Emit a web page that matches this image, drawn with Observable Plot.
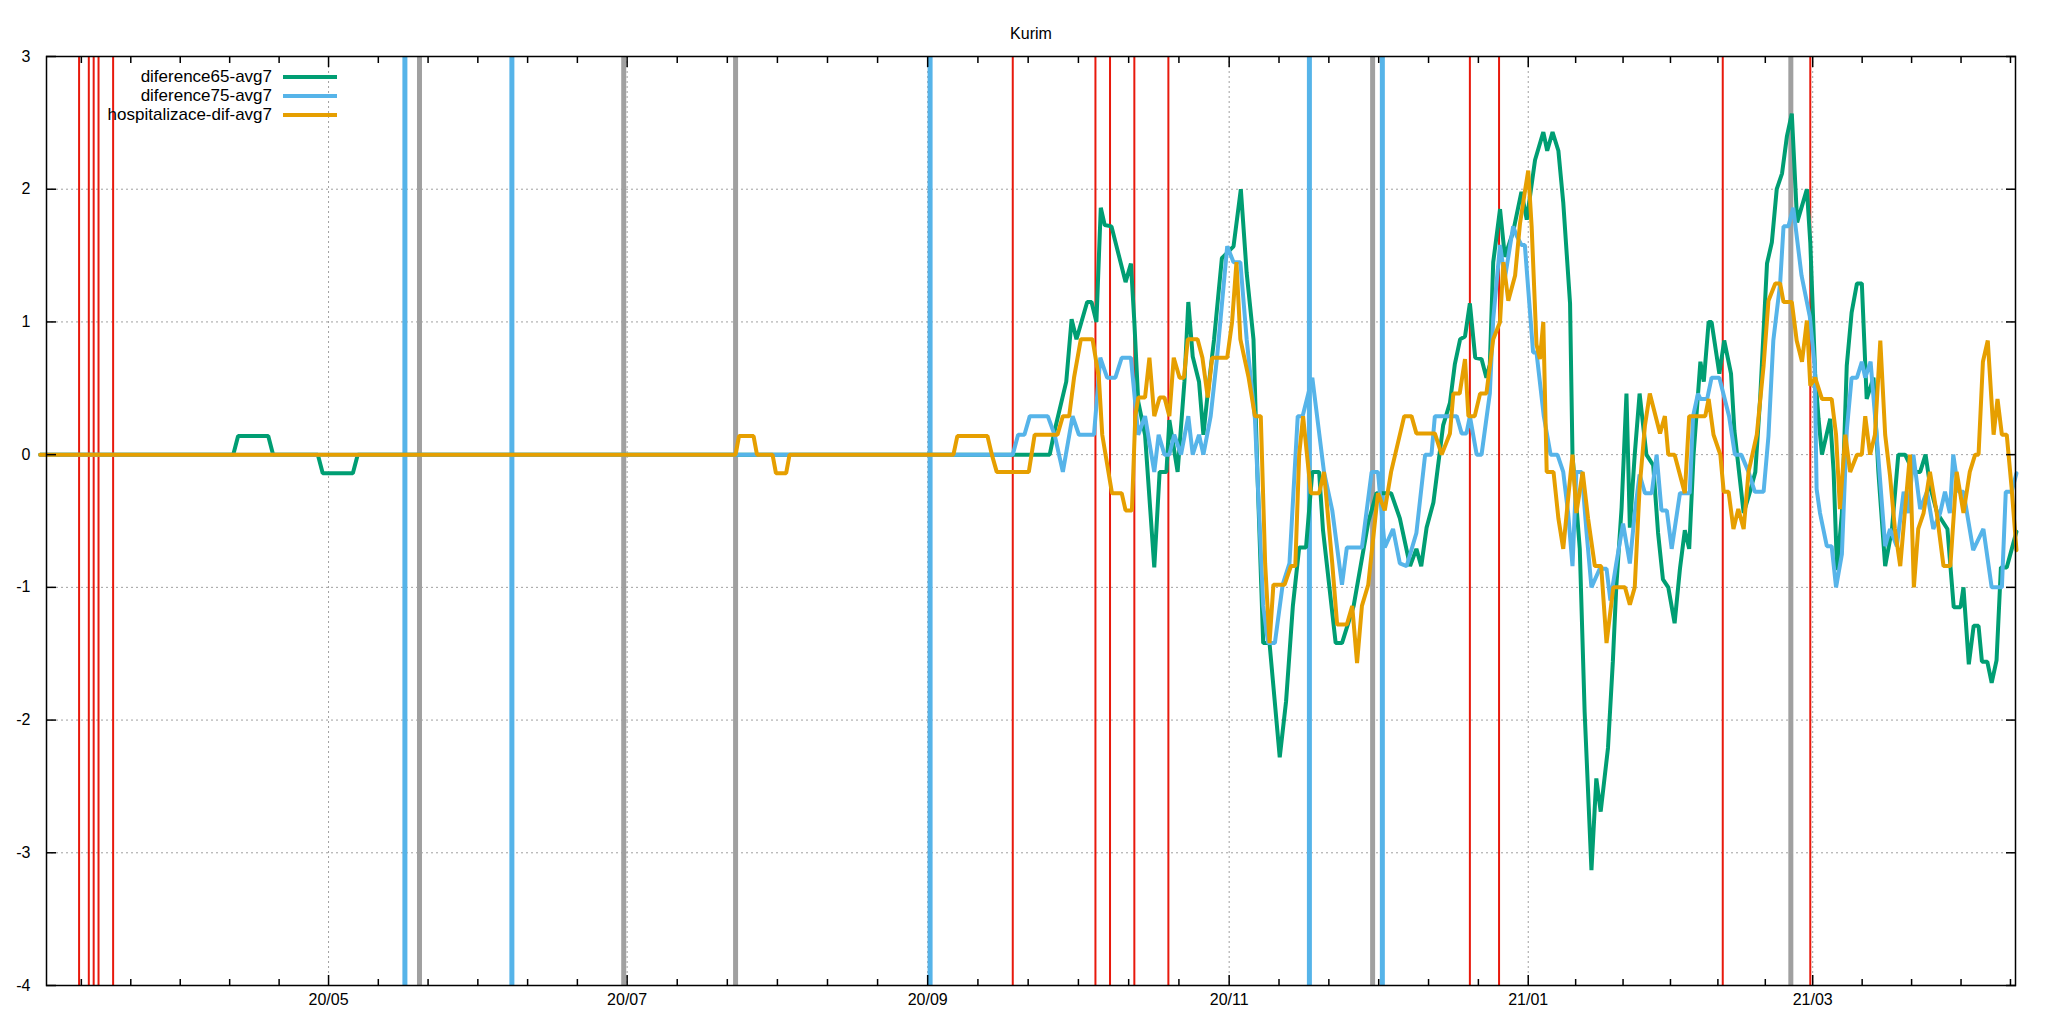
<!DOCTYPE html>
<html>
<head>
<meta charset="utf-8">
<script src="https://cdn.jsdelivr.net/npm/d3@7"></script>
<script src="https://cdn.jsdelivr.net/npm/@observablehq/plot@0.6"></script>
<style>
  body { margin: 0; background: #fff; font-family: "Liberation Sans", Arial, sans-serif; }
  #chart { position: relative; width: 2048px; height: 1024px; }
  #legend { position: absolute; left: 0; top: 0; font-size: 17px; }
</style>
</head>
<body>
<div id="chart"><div id="legend"></div></div>
<script>
// days counted from 2020-05-01
const dif65Days = [-61,-21.3,-20.3,-14.1,-13.1,-3.9,-2.9,3.3,4.3,146.6,147.6,150,151.1,152.1,154.3,155.2,156.2,157.1,157.9,159.3,162.2,163.3,164,164.8,166.2,168.1,169.2,170.6,171.2,172.9,174.3,175.1,176,177.3,178.2,179,180.4,182,184.4,185.9,187.1,188.5,189.3,190.5,191.8,193.9,195.2,196.6,197.9,199.3,200.6,202,202.8,205.4,206.7,209.1,212.1,213.8,216.8,
  218.6,220.7,222,223,224.1,225.5,227.5,228.9,229.9,231,232,233,234.1,235.4,236.4,237.1,237.8,239.2,240.2,241.9,243.6,244.7,246.4,248.1,248.9,250,251.2,252.2,253.6,254.1,255.6,256.6,258,259,259.9,261.4,262.4,263.1,264.2,265.2,265.9,266.9,267.9,269.3,270.7,271.7,272.7,273.8,275.1,276.2,277.2,278.1,279,
  280.4,281.1,282.1,282.7,284.3,285.3,286.7,287.4,289.3,290.6,291.7,292.7,294.1,295.1,296.1,297.2,298.2,299.2,300.3,302.3,303,304,304.7,305.4,307.1,307.8,308.5,309.5,310.5,311.5,312.6,313.6,314.6,316,317,318.4,319.8,321.1,322.5,324.2,325.6,326.7,327.7,329.1,331.2,332.5,333.9,334.5,335.6,336.6,337.6,338.3,339.4,340.3,341.3,342.2,343.4,345.4];
const dif65Vals = [0,0,.14,.14,0,0,-.14,-.14,0,0,.18,.55,1.02,.87,1.15,1.15,1.0,1.86,1.73,1.72,1.3,1.44,1.0,.4,.15,-.85,-.13,-.13,.26,-.13,.55,1.15,.74,.55,.15,.43,.87,1.48,1.57,2.0,1.37,.87,-.13,-1.42,-1.42,-2.28,-1.86,-1.14,-.7,-.7,-.13,-.13,-.57,-1.42,-1.42,-1.14,-.51,-.29,-.29,
  -.48,-.84,-.71,-.84,-.55,-.36,.22,.39,.68,.87,.89,1.14,.73,.72,.58,.68,1.45,1.85,1.49,1.68,1.98,1.77,2.22,2.43,2.29,2.43,2.29,1.9,1.14,0,-.71,-1.94,-3.13,-2.44,-2.69,-2.21,-1.56,-1.0,-.4,.46,-.55,0,.46,0,-.08,-.59,-.94,-1.0,-1.27,-.86,-.57,-.71,0,
  .7,.55,1.0,1.0,.61,.86,.61,.18,-.44,-.28,-.13,.43,1.44,1.6,2.0,2.12,2.4,2.57,1.75,2.0,1.6,.61,.27,0,.27,-.13,-.87,-.44,.67,1.07,1.29,1.29,.42,.58,-.13,-.84,-.56,0,0,-.13,-.13,0,-.25,-.44,-.56,-1.15,-1.15,-1.0,-1.58,-1.29,-1.29,-1.56,-1.56,-1.72,-1.55,-.85,-.85,-.58];

const dif75Days = [-61,139,140.1,141.4,142.5,146.2,147.6,149.3,151.3,152.6,155.7,157,158.4,160.1,161.4,163.3,164.8,166.2,168.1,169,170.2,171.2,172.2,173.6,175.1,176,177.3,178.2,179.7,181,183.1,184.4,185.8,187.1,188.8,190.5,191.5,192.9,194.5,195.9,197.6,198.6,200.6,203,204.7,206.7,207.7,210.8,212.8,214.1,215.5,217.2,
  218.6,220,222,223.8,225.1,225.8,230.3,231.3,232.3,233,234.4,235.4,237.1,237.8,239.2,240.2,241.9,242.6,243.6,244.3,246,246.7,248.2,249.6,251,252.2,253.2,254.1,254.9,256,257,258,259.7,261.1,261.9,263.1,264.5,265.9,266.9,267.9,269,270.4,271.4,272.4,273.5,274.5,276.2,278.2,278.9,279.9,
  280.4,281.8,282.7,284.3,286.3,287.5,288.8,290.3,291.6,293.4,294.4,295.4,296.8,297.5,298.5,299.5,301.2,302.9,303.9,304.3,305,306.4,307.4,308.3,309.5,310.5,311.5,312.6,313.6,314.3,315.4,316.7,318.4,319.4,320.8,322.2,323.2,324.2,325.6,327,328.3,329.7,330.7,331.7,332.4,333.5,334.5,336.5,338.6,340.3,342.4,343.2,344.4,345.4];
const dif75Vals = [0,0,.15,.15,.29,.29,.15,-.13,.29,.15,.15,.73,.58,.58,.73,.73,.15,.29,-.13,.15,0,0,.15,0,.29,0,.15,0,.29,.73,1.57,1.45,1.45,.87,.27,-1.14,-1.42,-1.42,-.98,-.82,.29,.29,.58,-.13,-.42,-.98,-.7,-.7,-.13,-.13,-.7,-.56,
  -.82,-.84,-.59,0,0,.29,.29,.16,.16,.29,0,0,.46,1.02,1.58,1.33,1.72,1.65,1.58,1.58,.77,.77,.29,0,0,-.13,-.44,-.84,-.13,-.13,-.59,-1.0,-.86,-.86,-1.1,-.82,-.52,-.82,-.44,-.15,-.29,-.29,0,-.42,-.42,-.71,-.29,-.29,.29,.46,
  .42,.42,.58,.58,.29,0,0,-.13,-.28,-.28,.14,.86,1.29,1.72,1.72,1.86,1.35,1.04,.67,-.26,-.44,-.69,-.69,-1.0,-.75,.18,.58,.58,.7,.58,.7,.12,-.69,-.56,-.69,-.28,-.44,0,-.41,-.28,-.56,-.44,-.28,-.44,0,-.28,-.28,-.72,-.56,-1.0,-1.0,-.28,-.28,-.14];

const hospDays = [-61,82,82.7,85.7,86.4,89.6,90.3,92.4,93.1,126.8,127.6,133.8,134.7,135.7,142.3,143.5,148.2,149.3,150.6,151.6,153,155.4,156.7,157.4,159.4,161.4,162.2,163.5,164.2,164.8,166.2,167.1,168.1,169.2,170.2,171.2,172.1,173.3,174.2,175,177,178,179.1,180,183.1,184.1,185,185.8,187.5,188.8,190,190.9,191.8,192.6,194.9,196.2,197.1,197.9,198.7,200.3,202,203,204.7,205.7,207.7,208.8,209.8,210.8,212.1,214.1,215.5,216.8,
  219.5,221,222,225.8,227.2,228.9,229.6,230.9,232,232.7,234,235.1,236.4,237.8,239.2,239.9,240.9,242.3,243.3,244.3,245,245.7,246.7,247.4,248.1,248.8,250.2,251.2,252.2,253.2,254.1,254.9,256.2,257.3,258.7,260,261.1,262.5,264.9,265.9,266.9,267.9,269,270,272.1,273.1,273.8,275.1,277.2,278.1,279.5,
  280.4,281.4,282.1,283.1,284.5,285.2,286.2,287.2,288.2,289.3,290.3,292,293.4,294.4,295.8,296.8,297.5,299.2,300.2,301.3,302.3,303,304,305.4,307.4,308.3,309.1,310.2,311.2,312.6,313.6,314.3,315.3,316.3,317.4,318.4,319.4,320.4,321.5,322.5,323.5,324.3,325.2,326.3,327.6,329,330.4,331.8,333.1,334.5,335.8,336.9,337.6,338.5,339.5,340.7,341.5,342.4,343.4,344.4,345.4];
const hospVals = [0,0,.14,.14,0,0,-.14,-.14,0,0,.14,.14,0,-.13,-.13,.15,.15,.29,.29,.58,.87,.87,.58,.15,-.29,-.29,-.42,-.42,.29,.43,.43,.73,.29,.43,.43,.29,.73,.58,.58,.87,.87,.73,.43,.73,.73,1.0,1.45,.87,.58,.29,.29,-.82,-1.42,-.98,-.98,-.84,-.84,0,.29,-.29,-.29,-.13,-.82,-1.28,-1.28,-1.14,-1.57,-1.14,-.98,-.29,-.42,-.13,
  .29,.29,.16,.16,0,.16,.46,.46,.72,.29,.29,.46,.46,.87,1.0,1.45,1.16,1.35,1.74,1.98,2.14,1.72,.83,.72,1.0,-.13,-.13,-.48,-.71,-.33,0,-.44,-.13,-.48,-.84,-.84,-1.42,-1.0,-1.0,-1.13,-1.0,-.25,.22,.46,.16,.29,0,0,-.29,.29,.29,
  .29,.29,.42,.15,0,-.28,-.28,-.56,-.41,-.56,-.13,.15,.67,1.16,1.29,1.29,1.15,1.15,.86,.7,1.01,.52,.58,.42,.42,.15,-.41,.15,-.13,0,0,.29,0,.15,.86,.15,-.16,-.56,-.84,-.41,0,-1.0,-.56,-.44,-.13,-.44,-.84,-.84,-.13,-.44,-.13,0,0,.7,.86,.15,.42,.15,.15,-.25,-.72];

const redDates = ["2020-03-09","2020-03-11","2020-03-12","2020-03-13","2020-03-16","2020-09-17","2020-10-04","2020-10-07","2020-10-12","2020-10-19","2020-12-20","2020-12-26","2021-02-10","2021-02-28"];
const blueDates = ["2020-05-15","2020-06-06","2020-08-31","2020-11-17","2020-12-02"];
const grayDates = ["2020-05-18","2020-06-29","2020-07-22","2020-11-30","2021-02-24"];
// major tick positions (days from 2020-05-01) and their labels
const majorDays = [-1.7, 59.7, 121.5, 183.5, 245, 303.5];
const majorLabels = ["20/05","20/07","20/09","20/11","21/01","21/03"];
const yTicks = [-4,-3,-2,-1,0,1,2,3];
const seriesNames = ["diference65-avg7","diference75-avg7","hospitalizace-dif-avg7"];
const colors = ["#009e73","#56b4e9","#e69f00"];

const base = Date.UTC(2020, 4, 1);
const toDate = d => new Date(base + d * 864e5);
const parse = s => new Date(s + "T00:00:00Z");

const rows = [];
[[dif65Days, dif65Vals], [dif75Days, dif75Vals], [hospDays, hospVals]].forEach(([ds, vs], i) => {
  ds.forEach((d, j) => rows.push({date: toDate(d), value: vs[j], series: seriesNames[i]}));
});

const majors = majorDays.map(toDate);
const labelOf = new Map(majors.map((d, i) => [+d, majorLabels[i]]));
// minor ticks: each major interval split into 6
const bounds = [-62.7, ...majorDays, 364.5];
const minors = [];
for (let i = 0; i < bounds.length - 1; i++) {
  for (let k = 1; k < 6; k++) minors.push(toDate(bounds[i] + (bounds[i + 1] - bounds[i]) * k / 6));
}
const xDomain = [toDate(-59.7), toDate(345.2)];
const inDomain = d => d >= xDomain[0] && d <= xDomain[1];
const minorsIn = minors.filter(inDomain);

const tickStyle = {text: null, strokeWidth: 1.5, tickSize: 0};

const chart = Plot.plot({
  width: 2048,
  height: 1024,
  marginLeft: 46,
  marginRight: 33,
  marginTop: 56,
  marginBottom: 39,
  style: {fontFamily: "Liberation Sans, Arial, sans-serif", fontSize: "16px", background: "white"},
  x: {type: "utc", domain: xDomain, label: null},
  y: {domain: [-4, 3], label: null},
  color: {domain: seriesNames, range: colors},
  marks: [
    Plot.gridY(yTicks, {stroke: "#a0a0a0", strokeOpacity: 1, strokeDasharray: "2,3"}),
    Plot.gridX(majors, {stroke: "#a0a0a0", strokeOpacity: 1, strokeDasharray: "2,3"}),
    Plot.ruleX(grayDates.map(parse), {stroke: "#a0a0a0", strokeWidth: 5}),
    Plot.ruleX(blueDates.map(parse), {stroke: "#56b4e9", strokeWidth: 5}),
    Plot.ruleX(redDates.map(parse), {stroke: "#e8190c", strokeWidth: 2}),
    Plot.line(rows, {x: "date", y: "value", z: "series", stroke: "series", strokeWidth: 4, strokeLinejoin: "miter", curve: "linear"}),
    Plot.frame({stroke: "black", strokeWidth: 1.5}),
    Plot.axisX(majors, {anchor: "bottom", tickSize: 0, tickPadding: 8, tickFormat: d => labelOf.get(+d)}),
    Plot.axisX(majors, {anchor: "bottom", text: null, strokeWidth: 1.5, tickSize: 10, dy: -10}),
    Plot.axisX(majors, {anchor: "top", text: null, strokeWidth: 1.5, tickSize: 10, dy: 10}),
    Plot.axisX(minorsIn, {anchor: "bottom", text: null, strokeWidth: 1.5, tickSize: 6, dy: -6}),
    Plot.axisX(minorsIn, {anchor: "top", text: null, strokeWidth: 1.5, tickSize: 6, dy: 6}),
    Plot.axisY(yTicks, {anchor: "left", tickSize: 0, tickPadding: 16, tickFormat: d => d}),
    Plot.axisY(yTicks, {anchor: "left", text: null, strokeWidth: 1.5, tickSize: 10, dx: 10}),
    Plot.axisY(yTicks, {anchor: "right", text: null, strokeWidth: 1.5, tickSize: 10, dx: -10}),
    Plot.text(["Kurim"], {frameAnchor: "top", dy: -29, fontSize: 16})
  ]
});

d3.select("#chart").insert(() => chart, "#legend");

// legend inside the plot, top-left
const lg = d3.select("#legend");
seriesNames.forEach((name, i) => {
  const row = lg.append("div")
    .style("position", "absolute")
    .style("top", (66 + i * 19) + "px")
    .style("left", "0px")
    .style("width", "340px")
    .style("height", "22px");
  row.append("div")
    .style("position", "absolute").style("right", "68px").style("top", "0px")
    .style("white-space", "nowrap").style("line-height", "22px")
    .text(name);
  row.append("div")
    .style("position", "absolute").style("left", "283px").style("top", "9px")
    .style("width", "54px").style("height", "4px").style("background", colors[i]);
});
</script>
</body>
</html>
